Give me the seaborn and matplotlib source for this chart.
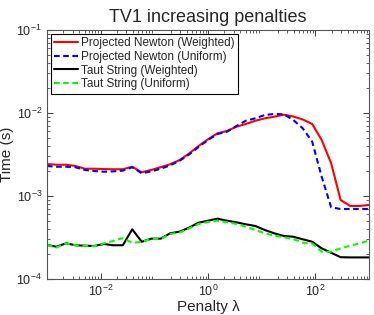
import numpy as np
import pandas as pd
import seaborn as sns
import matplotlib
matplotlib.use("Agg")
import matplotlib.pyplot as plt
from matplotlib.ticker import LogLocator, NullFormatter

# penalty values (35 points, 1e-3 .. 1e3)
penalties = np.logspace(-3, 3, 35)

# timings (seconds)
pn_weighted = [2.43e-3, 2.38e-3, 2.38e-3, 2.30e-3, 2.13e-3, 2.13e-3, 2.11e-3, 2.10e-3,
               2.10e-3, 2.25e-3, 1.93e-3, 2.06e-3, 2.22e-3, 2.41e-3, 2.71e-3, 3.25e-3,
               4.00e-3, 4.82e-3, 5.69e-3, 6.07e-3, 6.84e-3, 7.37e-3, 8.07e-3, 8.63e-3,
               9.03e-3, 9.54e-3, 9.08e-3, 8.35e-3, 7.37e-3, 4.73e-3, 2.48e-3, 8.95e-4,
               7.58e-4, 7.58e-4, 7.79e-4]
pn_uniform = [2.30e-3, 2.25e-3, 2.25e-3, 2.22e-3, 2.06e-3, 2.00e-3, 1.96e-3, 1.98e-3,
              2.02e-3, 2.22e-3, 1.88e-3, 1.98e-3, 2.13e-3, 2.34e-3, 2.66e-3, 3.16e-3,
              3.89e-3, 4.73e-3, 5.58e-3, 5.95e-3, 6.97e-3, 8.07e-3, 8.63e-3, 9.46e-3,
              9.73e-3, 9.65e-3, 8.24e-3, 6.54e-3, 4.51e-3, 1.71e-3, 7.31e-4, 6.97e-4,
              6.97e-4, 6.97e-4, 6.97e-4]
ts_weighted = [2.57e-4, 2.45e-4, 2.69e-4, 2.55e-4, 2.52e-4, 2.50e-4, 2.64e-4, 2.55e-4,
               2.55e-4, 3.97e-4, 2.81e-4, 3.06e-4, 3.06e-4, 3.55e-4, 3.72e-4, 4.15e-4,
               4.77e-4, 5.04e-4, 5.33e-4, 5.04e-4, 4.82e-4, 4.56e-4, 4.35e-4, 3.89e-4,
               3.55e-4, 3.30e-4, 3.23e-4, 3.01e-4, 2.81e-4, 2.34e-4, 2.07e-4, 1.83e-4,
               1.82e-4, 1.82e-4, 1.82e-4]
ts_uniform = [2.57e-4, 2.40e-4, 2.69e-4, 2.55e-4, 2.50e-4, 2.48e-4, 2.69e-4, 2.87e-4,
              3.12e-4, 2.72e-4, 2.81e-4, 3.03e-4, 3.03e-4, 3.48e-4, 3.63e-4, 4.06e-4,
              4.60e-4, 4.86e-4, 5.04e-4, 4.82e-4, 4.60e-4, 4.27e-4, 3.89e-4, 3.55e-4,
              3.32e-4, 3.18e-4, 3.03e-4, 2.74e-4, 2.68e-4, 2.13e-4, 2.13e-4, 2.34e-4,
              2.52e-4, 2.69e-4, 2.91e-4]

series = [
    ("Projected Newton (Weighted)", pn_weighted, "#ff0000", False),
    ("Projected Newton (Uniform)", pn_uniform, "#0000ff", True),
    ("Taut String (Weighted)", ts_weighted, "#000000", False),
    ("Taut String (Uniform)", ts_uniform, "#00ff00", True),
]

sns.set_style("ticks")
plt.rcParams["font.family"] = ["Liberation Sans", "DejaVu Sans"]
plt.rcParams["mathtext.fontset"] = "custom"
plt.rcParams["mathtext.rm"] = "Liberation Sans"
plt.rcParams["mathtext.it"] = "Liberation Sans:italic"

fig = plt.figure(figsize=(3.74, 3.15), dpi=100)
ax = fig.add_axes([0.1257, 0.1143, 0.861, 0.7905])

for name, values, color, dashed in series:
    df = pd.DataFrame({"penalty": penalties, "time": values})
    sns.lineplot(data=df, x="penalty", y="time", ax=ax, color=color,
                 linewidth=1.5, label=name)
    if dashed:
        ax.lines[-1].set_dashes((2.7, 1.7))

ax.set_xscale("log")
ax.set_yscale("log")
ax.set_xlim(1e-3, 1e3)
ax.set_ylim(1e-4, 1e-1)
ax.set_xticks([1e-2, 1e0, 1e2])
ax.set_yticks([1e-4, 1e-3, 1e-2, 1e-1])
ax.xaxis.set_minor_locator(LogLocator(base=10, subs=np.arange(2, 10), numticks=20))
ax.yaxis.set_minor_locator(LogLocator(base=10, subs=np.arange(2, 10), numticks=20))
ax.xaxis.set_minor_formatter(NullFormatter())
ax.yaxis.set_minor_formatter(NullFormatter())
ax.tick_params(which="both", direction="in", top=True, right=True,
               labelsize=9, color="#444444")
ax.tick_params(which="major", length=4)
ax.tick_params(which="minor", length=2)
for s in ax.spines.values():
    s.set_color("#555555")
    s.set_linewidth(0.8)

ax.set_title("TV1 increasing penalties", fontsize=13)
ax.set_xlabel("Penalty λ", fontsize=11, labelpad=1)
ax.set_ylabel("Time (s)", fontsize=11, labelpad=2)

leg = ax.legend(loc="upper left", fontsize=8.5, frameon=True, fancybox=False,
                handlelength=2.0, handletextpad=0.3, borderpad=0.3,
                labelspacing=0.15, borderaxespad=0.3)
leg.get_frame().set_edgecolor("black")
leg.get_frame().set_linewidth(0.8)
leg.get_frame().set_alpha(1)
for h, (_, _, _, dashed) in zip(leg.get_lines(), series):
    if dashed:
        h.set_dashes((2.7, 1.7))

fig.savefig("out.png", dpi=100)
